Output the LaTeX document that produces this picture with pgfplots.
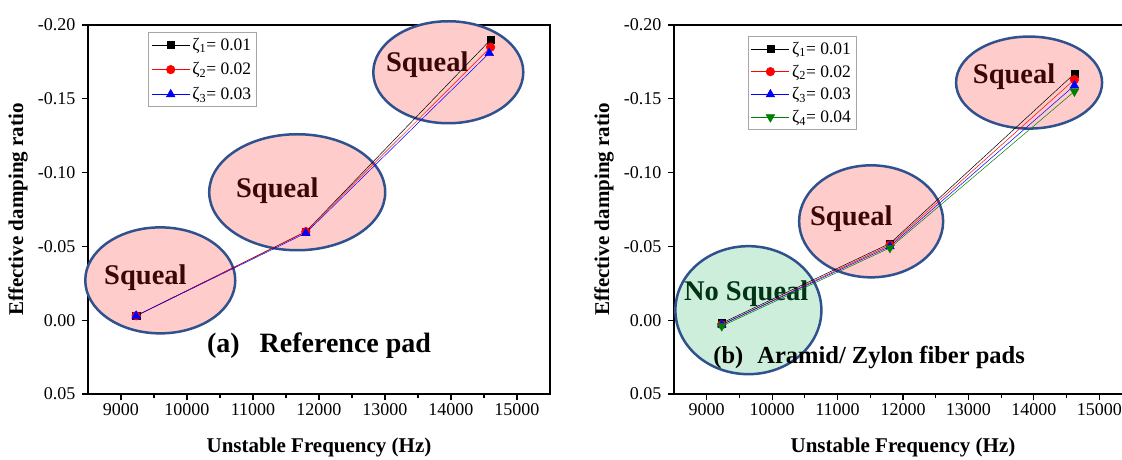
\documentclass[border=0pt]{standalone}
\usepackage{fontspec}
\setmainfont{Liberation Serif}
\usepackage{pgfplots}
\pgfplotsset{compat=1.18}

\definecolor{ellblue}{RGB}{47,82,143}
\definecolor{pinkfill}{RGB}{255,204,204}
\definecolor{greenfill}{RGB}{204,238,218}
\definecolor{sqtxt}{RGB}{60,6,6}
\definecolor{nsqtxt}{RGB}{0,52,20}
\definecolor{sgreen}{RGB}{0,128,0}

\tikzset{
  sq/.style={font=\fontsize{28.5}{28.5}\selectfont\bfseries, text=sqtxt},
  ell/.style={draw=ellblue, line width=2.5pt, fill=pinkfill},
}

\pgfplotsset{
  myaxis/.style={
    scale only axis, height=369pt,
    xmin=8500, xmax=15500, ymin=-0.2, ymax=0.05, y dir=reverse,
    xtick={9000,10000,11000,12000,13000,14000,15000},
    xticklabels={9000,10000,11000,12000,13000,14000,15000},
    scaled x ticks=false, scaled y ticks=false,
    xtick pos=bottom, ytick pos=left,
    minor x tick num=1,
    ytick={-0.2,-0.15,-0.1,-0.05,0,0.05},
    yticklabels={-0.20,-0.15,-0.10,-0.05,0.00,0.05},
    tick align=outside, major tick length=6pt, minor tick length=3.5pt,
    axis line style={line width=1.6pt},
    every tick/.style={black, line width=1.2pt},
    tick label style={font=\fontsize{18}{18}\selectfont},
    yticklabel style={xshift=-3pt},
    every axis x label/.style={at={(axis description cs:0.5,0)}, yshift=-53pt, anchor=center,
      font=\fontsize{21}{21}\selectfont\bfseries},
    every axis y label/.style={at={(axis description cs:0,0.5)}, xshift=-70pt, rotate=90, anchor=center,
      font=\fontsize{21}{21}\selectfont\bfseries},
    xlabel={Unstable Frequency (Hz)},
    ylabel={Effective damping ratio},
    clip=false,
    legend cell align=left,
    legend style={anchor=north west, draw=black!35, line width=0.8pt,
      font=\fontsize{17.5}{19}\selectfont, inner sep=3pt, row sep=6pt,
      nodes={inner sep=2.5pt}},
    legend image code/.code={\draw[mark repeat=2,mark phase=2] plot coordinates {(0pt,0pt) (19pt,0pt) (38pt,0pt)};},
  },
  s1/.style={black, line width=0.5pt, mark=square*, mark size=3.6pt, mark options={solid}},
  s2/.style={red, line width=0.5pt, mark=*, mark size=4.3pt, mark options={solid}},
  s3/.style={blue, line width=0.5pt, mark=triangle*, mark size=5pt, mark options={solid}},
  s4/.style={sgreen, line width=0.5pt, mark=triangle*, mark size=5pt, mark options={solid, rotate=180}},
}

\begin{document}
\begin{tikzpicture}
\useasboundingbox (0pt,0pt) rectangle (1122pt,-459pt);

% ---------- (a) ----------
\begin{axis}[myaxis, at={(88pt,-394pt)}, anchor=south west, width=462pt,
  legend style={at={(0.13,0.981)}}]
\draw[ell] (axis cs:9595,-0.027) ellipse [x radius=75pt, y radius=53pt];
\draw[ell] (axis cs:11670,-0.0867) ellipse [x radius=88pt, y radius=58pt];
\draw[ell] (axis cs:13959,-0.168) ellipse [x radius=75pt, y radius=51pt];
\node[sq] at (axis cs:9370,-0.029) {Squeal};
\node[sq] at (axis cs:11368,-0.088) {Squeal};
\node[sq] at (axis cs:13641,-0.173) {Squeal};
\node[font=\fontsize{28}{28}\selectfont\bfseries] at (axis cs:12000,0.0175) {(a)\hspace{20pt}Reference pad};
\addplot[s1] coordinates {(9230,-0.003) (11800,-0.060) (14600,-0.190)};
\addlegendentry{ζ\textsubscript{1}= 0.01}
\addplot[s2] coordinates {(9230,-0.003) (11800,-0.060) (14600,-0.185)};
\addlegendentry{ζ\textsubscript{2}= 0.02}
\addplot[s3] coordinates {(9230,-0.003) (11800,-0.059) (14580,-0.181)};
\addlegendentry{ζ\textsubscript{3}= 0.03}
\end{axis}

% ---------- (b) ----------
\begin{axis}[myaxis, at={(674pt,-394pt)}, anchor=south west, width=458pt,
  legend style={at={(0.161,0.97)}, row sep=4pt}]
\draw[ell, fill=greenfill] (axis cs:9637,-0.0068) ellipse [x radius=73pt, y radius=64pt];
\draw[ell] (axis cs:11513,-0.067) ellipse [x radius=72pt, y radius=56pt];
\draw[ell] (axis cs:13927,-0.161) ellipse [x radius=73pt, y radius=46pt];
\node[sq, text=nsqtxt] at (axis cs:9603,-0.018) {No Squeal};
\node[sq] at (axis cs:11209,-0.069) {Squeal};
\node[sq] at (axis cs:13698,-0.165) {Squeal};
\node[font=\fontsize{24.5}{24.5}\selectfont\bfseries] at (axis cs:11483,0.025) {(b)\hspace{14pt}Aramid/ Zylon fiber pads};
\addplot[s1] coordinates {(9230,0.002) (11800,-0.052) (14620,-0.167)};
\addlegendentry{ζ\textsubscript{1}= 0.01}
\addplot[s2] coordinates {(9230,0.003) (11800,-0.051) (14620,-0.163)};
\addlegendentry{ζ\textsubscript{2}= 0.02}
\addplot[s3] coordinates {(9230,0.003) (11800,-0.050) (14620,-0.159)};
\addlegendentry{ζ\textsubscript{3}= 0.03}
\addplot[s4] coordinates {(9230,0.004) (11800,-0.049) (14620,-0.155)};
\addlegendentry{ζ\textsubscript{4}= 0.04}
\end{axis}
\end{tikzpicture}
\end{document}
